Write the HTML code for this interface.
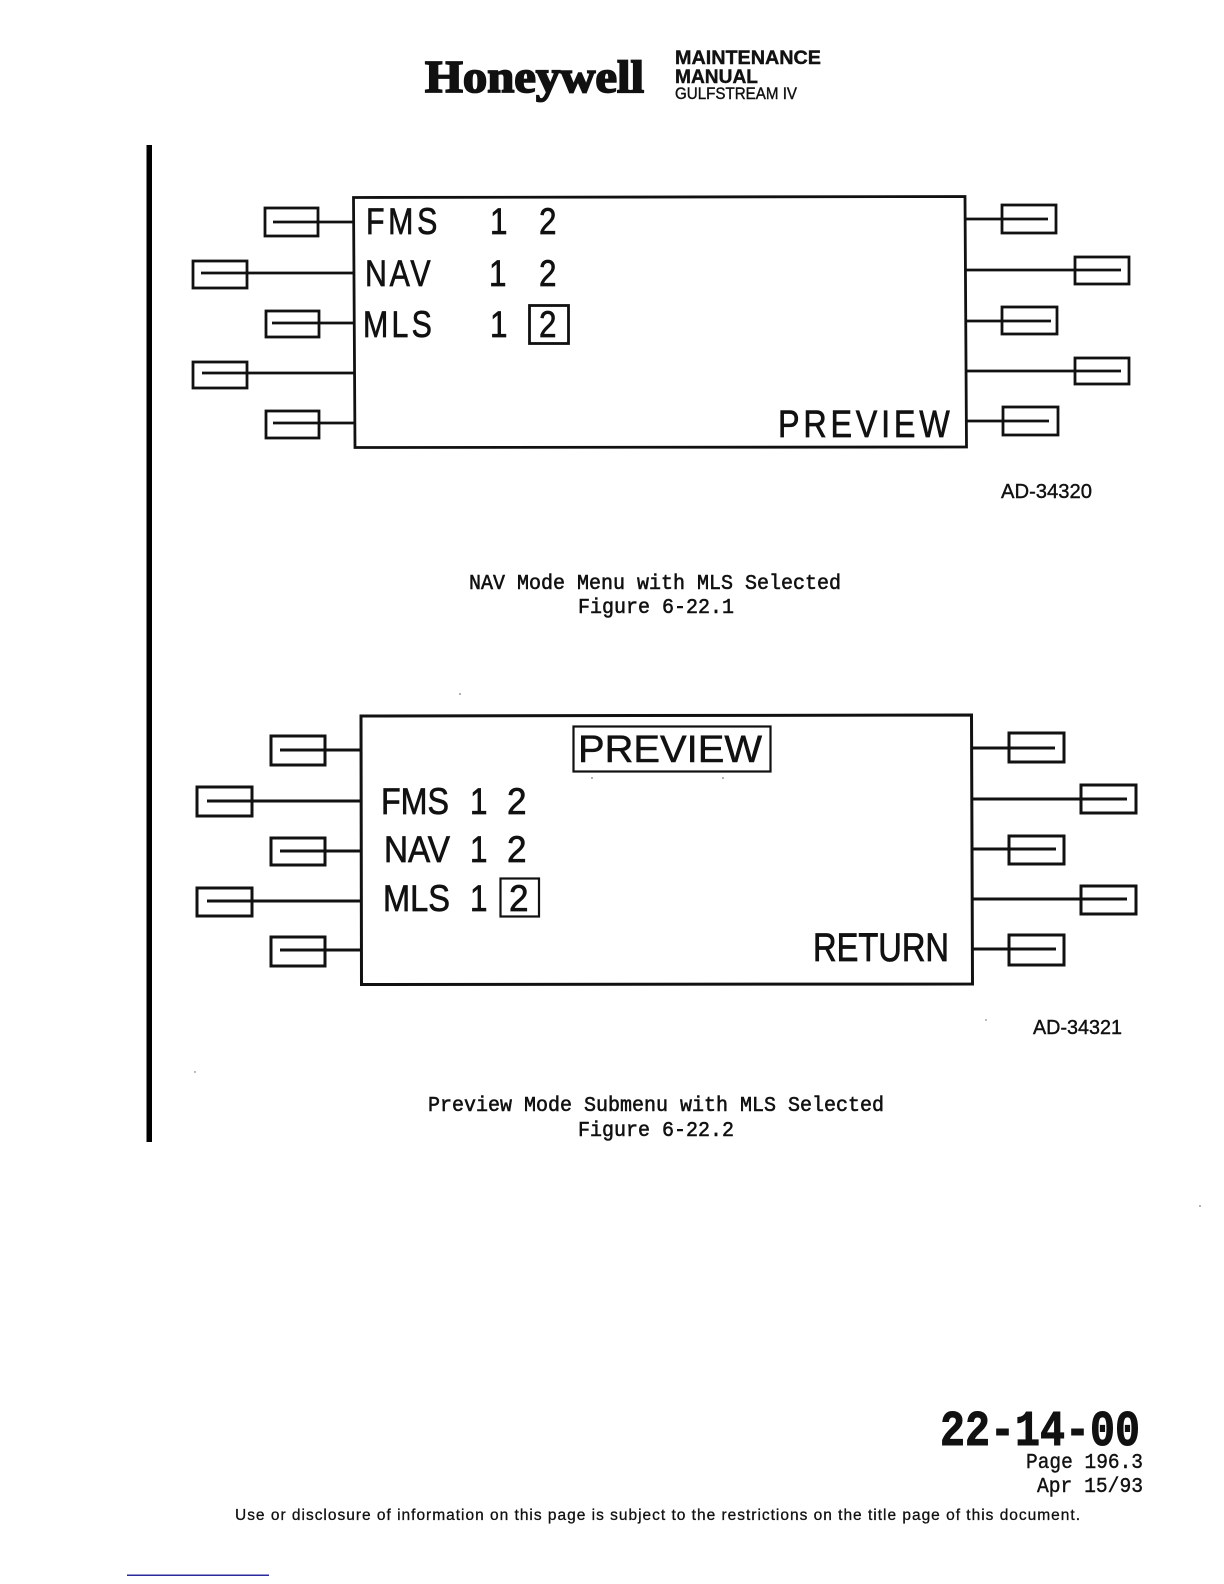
<!DOCTYPE html>
<html>
<head>
<meta charset="utf-8">
<title>22-14-00 Page 196.3</title>
<style>
html,body{margin:0;padding:0;background:#fff;width:1224px;height:1584px;overflow:hidden}
svg{display:block}
text{fill:#111;white-space:pre}
.s{font-family:"Liberation Sans",sans-serif}
.m{font-family:"Liberation Mono",monospace}
.t{font-family:"Liberation Serif",serif}
.big{font-size:37px;stroke:#111;stroke-width:.7px}
.cap{font-size:21px;stroke:#111;stroke-width:.55px}
</style>
</head>
<body>
<svg width="1224" height="1584" viewBox="0 0 1224 1584" xmlns="http://www.w3.org/2000/svg">
<rect width="1224" height="1584" fill="#fff"/>

<!-- header -->
<text class="t" x="425" y="92" font-size="46" font-weight="700" textLength="219" lengthAdjust="spacingAndGlyphs" stroke="#111" stroke-width="1.8">Honeywell</text>
<text class="s" x="675" y="64" font-size="19.5" font-weight="700" textLength="146" lengthAdjust="spacingAndGlyphs" stroke="#111" stroke-width=".4">MAINTENANCE</text>
<text class="s" x="675" y="83" font-size="19.5" font-weight="700" textLength="83" lengthAdjust="spacingAndGlyphs" stroke="#111" stroke-width=".4">MANUAL</text>
<text class="s" x="675" y="99" font-size="16.5" textLength="122" lengthAdjust="spacingAndGlyphs" stroke="#111" stroke-width=".4">GULFSTREAM IV</text>

<!-- change bar -->
<rect x="146.500" y="145" width="5.500" height="997" fill="#000"/>

<!-- figure 1 -->
<g fill="none" stroke="#111" stroke-width="2.800">
<path d="M353.500 197.500 L965 196.500 L966.500 447 L355 447.500 Z"/>
<rect x="265" y="208" width="53" height="28"/>
<rect x="193" y="261" width="54" height="27"/>
<rect x="266" y="311" width="53" height="26"/>
<rect x="193" y="362" width="54" height="26"/>
<rect x="266" y="411" width="53" height="27"/>
<rect x="1002" y="205" width="54" height="28"/>
<rect x="1075" y="257" width="54" height="27"/>
<rect x="1002" y="307" width="55" height="27"/>
<rect x="1075" y="358" width="54" height="26"/>
<rect x="1003" y="407" width="55" height="28"/>
<path d="M273 222H353M201 273H354M272 323H354M202 373H354M273 423H355"/>
<path d="M965 219H1048M965 270H1121M965 321H1051M966 371H1121M966 421H1049"/>
<rect x="529.500" y="305.500" width="39" height="38"/>
</g>
<text class="s big" transform="translate(366,234) scale(.82,1)" textLength="87">FMS</text>
<text class="s big" transform="translate(490,234) scale(.85,1)">1</text>
<text class="s big" transform="translate(539,234) scale(.85,1)">2</text>
<text class="s big" transform="translate(365,286) scale(.82,1)" textLength="80">NAV</text>
<text class="s big" transform="translate(489,286) scale(.85,1)">1</text>
<text class="s big" transform="translate(539,286) scale(.85,1)">2</text>
<text class="s big" transform="translate(363,337) scale(.82,1)" textLength="84">MLS</text>
<text class="s big" transform="translate(490,337) scale(.85,1)">1</text>
<text class="s big" transform="translate(539,337) scale(.85,1)">2</text>
<text class="s" font-size="38" stroke="#111" stroke-width=".7" transform="translate(778,437) scale(.85,1)" textLength="202">PREVIEW</text>
<text class="s" x="1001" y="498" font-size="20" textLength="91" lengthAdjust="spacingAndGlyphs" stroke="#111" stroke-width=".4">AD-34320</text>

<text class="m cap" x="469" y="589" textLength="372" lengthAdjust="spacingAndGlyphs">NAV Mode Menu with MLS Selected</text>
<text class="m cap" x="578" y="613" textLength="156" lengthAdjust="spacingAndGlyphs">Figure 6-22.1</text>

<!-- figure 2 -->
<g fill="none" stroke="#111" stroke-width="3">
<path d="M361 716 L971.500 715 L972.500 984 L361.500 984.500 Z"/>
<rect x="271" y="736" width="54" height="29"/>
<rect x="197" y="787" width="55" height="29"/>
<rect x="271" y="838" width="54" height="27"/>
<rect x="197" y="888" width="55" height="28"/>
<rect x="271" y="937" width="54" height="29"/>
<rect x="1009" y="733" width="55" height="29"/>
<rect x="1081" y="785" width="55" height="28"/>
<rect x="1009" y="836" width="55" height="28"/>
<rect x="1081" y="886" width="55" height="28"/>
<rect x="1009" y="935" width="55" height="30"/>
<path d="M280 750H361M207 801H361M280 851H361M207 901H361M280 950H361"/>
<path d="M972 748H1055M972 799H1127M972 849H1056M972 899H1127M972 949H1056"/>
</g>
<g fill="none" stroke="#111" stroke-width="2.200">
<rect x="500.500" y="878.500" width="38.500" height="38"/>
<rect x="573.500" y="726.500" width="197" height="45"/>
</g>
<text class="s big" x="381" y="814" textLength="68" lengthAdjust="spacingAndGlyphs">FMS</text>
<text class="s big" transform="translate(470,814) scale(.85,1)">1</text>
<text class="s big" transform="translate(507,814) scale(.95,1)">2</text>
<text class="s big" x="384" y="862" textLength="66" lengthAdjust="spacingAndGlyphs">NAV</text>
<text class="s big" transform="translate(470,862) scale(.85,1)">1</text>
<text class="s big" transform="translate(507,862) scale(.95,1)">2</text>
<text class="s big" x="383" y="911" textLength="67" lengthAdjust="spacingAndGlyphs">MLS</text>
<text class="s big" transform="translate(470,911) scale(.85,1)">1</text>
<text class="s big" transform="translate(509,911) scale(.95,1)">2</text>
<text class="s" x="578" y="762" font-size="38" textLength="184" lengthAdjust="spacingAndGlyphs" stroke="#111" stroke-width=".5">PREVIEW</text>
<text class="s" x="813" y="961" font-size="40" textLength="136" lengthAdjust="spacingAndGlyphs" stroke="#111" stroke-width=".8">RETURN</text>
<text class="s" x="1033" y="1034" font-size="20" textLength="89" lengthAdjust="spacingAndGlyphs" stroke="#111" stroke-width=".4">AD-34321</text>

<text class="m cap" x="428" y="1111" textLength="456" lengthAdjust="spacingAndGlyphs">Preview Mode Submenu with MLS Selected</text>
<text class="m cap" x="578" y="1136" textLength="156" lengthAdjust="spacingAndGlyphs">Figure 6-22.2</text>

<!-- specks -->
<g fill="#555">
<circle cx="460" cy="694" r=".8"/>
<circle cx="592" cy="778" r=".8"/>
<circle cx="723" cy="778" r=".8"/>
<circle cx="986" cy="1020" r=".7"/>
<circle cx="195" cy="1072" r=".7"/>
<circle cx="1200" cy="1206" r=".8"/>
</g>

<!-- footer block -->
<text class="m" x="940" y="1445" font-size="50" font-weight="700" textLength="200" lengthAdjust="spacingAndGlyphs" stroke="#111" stroke-width="1">22-14-00</text>
<text class="m" x="1026" y="1468" font-size="21" textLength="117" lengthAdjust="spacingAndGlyphs" stroke="#111" stroke-width=".4">Page 196.3</text>
<text class="m" x="1037" y="1492" font-size="21" textLength="106" lengthAdjust="spacingAndGlyphs" stroke="#111" stroke-width=".4">Apr 15/93</text>
<text class="s" x="235" y="1520" font-size="15.500" textLength="845" lengthAdjust="spacing" stroke="#111" stroke-width=".3">Use or disclosure of information on this page is subject to the restrictions on the title page of this document.</text>

<rect x="127" y="1574.500" width="142" height="1.500" fill="#2a2a9e"/>
</svg>
</body>
</html>
